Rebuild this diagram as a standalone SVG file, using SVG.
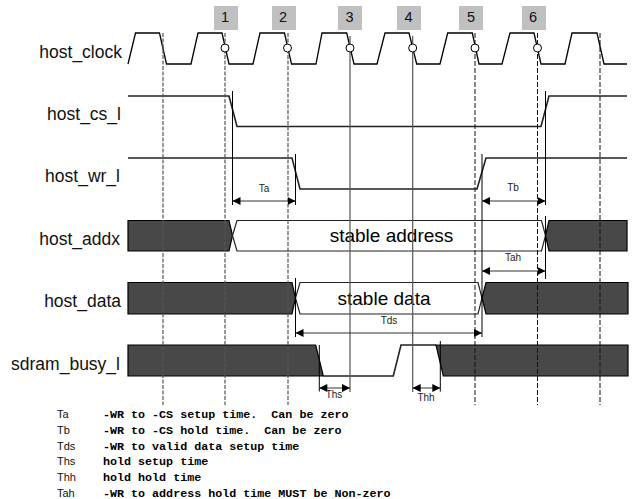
<svg xmlns="http://www.w3.org/2000/svg" width="634" height="499" viewBox="0 0 634 499">
<style>
text{font-family:"Liberation Sans",Arial,sans-serif;fill:#000}
.sig{font-size:17.500px;text-anchor:end;fill:#111}
.num{font-size:14.500px;text-anchor:middle;fill:#111}
.t{font-size:10px;text-anchor:middle;fill:#222}
.big{font-size:19px;text-anchor:middle}
.k{font-size:11px;fill:#111}
.d{font-family:"Liberation Mono",monospace;font-size:11.700px;font-weight:bold;white-space:pre}
.w{fill:none;stroke:#000;stroke-width:1.3}
.h{fill:none;stroke:#222;stroke-width:1.6}
.dk{fill:#484848;stroke:#000;stroke-width:1.2}
.wb{fill:#fff;stroke:#222;stroke-width:1.2}
.dash{fill:none;stroke:#555;stroke-width:1.2;stroke-dasharray:4 1.5}
.dash2{fill:none;stroke:#111;stroke-width:1;stroke-dasharray:5 2}
.sol{stroke:#555;stroke-width:1.2;fill:none}
.tick{stroke:#000;stroke-width:1;fill:none}
.arr{stroke:#333;stroke-width:1;fill:none;marker-start:url(#as);marker-end:url(#ae)}
.box{fill:#c0c0c0}
.ring{fill:#fff;stroke:#000;stroke-width:1}
</style>
<defs>
<marker id="ae" markerUnits="userSpaceOnUse" markerWidth="9" markerHeight="9" refX="8" refY="4" orient="auto"><path d="M0,0L8,4L0,8Z" fill="#000"/></marker>
<marker id="as" markerUnits="userSpaceOnUse" markerWidth="9" markerHeight="9" refX="0" refY="4" orient="auto"><path d="M8,0L0,4L8,8Z" fill="#000"/></marker>
</defs>
<g id="stage-markers">
<rect class="box" x="214" y="6" width="24" height="24"/><text class="num" x="225" y="22">1</text>
<rect class="box" x="272" y="6" width="24" height="24"/><text class="num" x="283" y="22">2</text>
<rect class="box" x="338" y="6" width="24" height="24"/><text class="num" x="349.500" y="22">3</text>
<rect class="box" x="397" y="6" width="24" height="24"/><text class="num" x="408.500" y="22">4</text>
<rect class="box" x="459" y="6" width="24" height="24"/><text class="num" x="471" y="22">5</text>
<rect class="box" x="522" y="6" width="24" height="24"/><text class="num" x="533" y="22">6</text>
</g>
<g id="host_addx">
<text class="sig" x="120" y="245">host_addx</text>
<path class="dk" d="M128,220.500H229L232.500,235.500L229,251H128Z"/>
<path class="wb" d="M232.500,235.500L237,220.500H541.500L545.500,235.500L541.500,251H237Z"/>
<path class="dk" d="M545.500,235.500L549,220.500H627V251H549Z"/>
<text class="big" x="391.500" y="242">stable address</text>
</g>
<g id="host_data">
<text class="sig" x="121" y="307">host_data</text>
<path class="dk" d="M128,282.500H292L295.500,298L292,314H128Z"/>
<path class="wb" d="M295.500,298L300,282.500H478L482,298L478,314H300Z"/>
<path class="dk" d="M482,298L486,282.500H628V314H486Z"/>
<text class="big" x="384" y="305">stable data</text>
</g>
<g id="sdram_busy_l">
<text class="sig" x="120" y="370">sdram_busy_l</text>
<path class="dk" d="M128,345H315.700L323.300,376H128Z"/>
<path class="h" d="M323.300,376H393.300L401,345H436"/>
<path class="dk" d="M436,345H628V376H443.300Z"/>
</g>
<g id="host_clock">
<text class="sig" x="122" y="58">host_clock</text>
<path class="w" d="M128,64L135.500,33H159.500L166.500,64H191L198,33H222L229,64H253L260,33H284.500L291.500,64H316L322,33H346.700L354,64H377L385,33H409L416.700,64H440L447.700,33H472.300L479,64H502L510,33H534L541,64H565L572,33H597L604,64H627"/>
</g>
<g id="host_cs_l">
<text class="sig" x="121" y="120">host_cs_l</text>
<path class="h" d="M128,96H229L237,126.500H541L549,96H627"/>
</g>
<g id="host_wr_l">
<text class="sig" x="120" y="182">host_wr_l</text>
<path class="h" d="M128,158H292L300,189H477L486,158H627"/>
</g>
<g id="connectors">
<path class="dash" d="M163,33V405M225,33V405M288,33V405"/>
<path class="dash2" d="M475,33V405M537.500,33V405M600,33V405"/>
<path class="sol" d="M350,36V392M412.700,36V392"/>
<path class="tick" d="M232.500,91V205M295.500,154V205M295.500,278V337M482,154V337M545.500,91V205M545.500,216V279M319.300,345V391.500M440.300,341V391.500"/>
<line class="arr" x1="232.500" y1="201" x2="295.500" y2="201"/>
<line class="arr" x1="482" y1="201" x2="545.500" y2="201"/>
<line class="arr" x1="482" y1="271" x2="545.500" y2="271"/>
<line class="arr" x1="295.500" y1="333" x2="482" y2="333"/>
<line class="arr" x1="319.300" y1="388" x2="350" y2="388"/>
<line class="arr" x1="412.700" y1="388" x2="440.300" y2="388"/>
<circle class="ring" cx="225" cy="48" r="4"/><circle class="ring" cx="287.500" cy="48" r="4"/><circle class="ring" cx="350" cy="48" r="4"/><circle class="ring" cx="412.700" cy="48" r="4"/><circle class="ring" cx="475" cy="48" r="4"/><circle class="ring" cx="537.500" cy="48" r="4"/>
<text class="t" x="264" y="191.500">Ta</text>
<text class="t" x="513" y="191">Tb</text>
<text class="t" x="513" y="261">Tah</text>
<text class="t" x="389" y="324">Tds</text>
<text class="t" x="334" y="398">Ths</text>
<text class="t" x="426" y="401">Thh</text>
</g>
<g id="notes">
<text class="k" x="57" y="418">Ta</text><text class="d" x="103" y="418">-WR to -CS setup time.  Can be zero</text>
<text class="k" x="57" y="433.500">Tb</text><text class="d" x="103" y="433.500">-WR to -CS hold time.  Can be zero</text>
<text class="k" x="57" y="449.500">Tds</text><text class="d" x="103" y="449.500">-WR to valid data setup time</text>
<text class="k" x="57" y="465">Ths</text><text class="d" x="103" y="465">hold setup time</text>
<text class="k" x="57" y="481">Thh</text><text class="d" x="103" y="481">hold hold time</text>
<text class="k" x="57" y="496.500">Tah</text><text class="d" x="103" y="496.500">-WR to address hold time MUST be Non-zero</text>
</g>
</svg>
